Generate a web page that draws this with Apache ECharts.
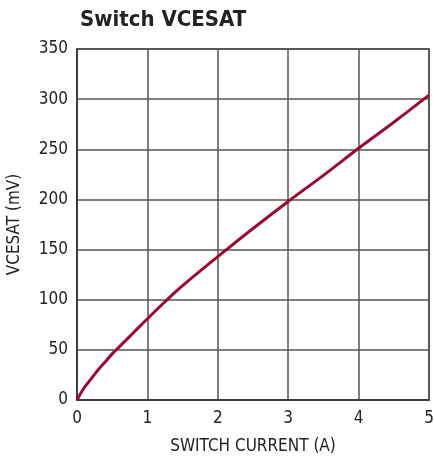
<!DOCTYPE html>
<html>
<head>
<meta charset="utf-8">
<script src="https://cdn.jsdelivr.net/npm/echarts@6/dist/echarts.min.js"></script>
<style>
  html, body { margin: 0; padding: 0; background: #fff; }
  #chart { width: 434px; height: 459px; }
</style>
</head>
<body>
<div id="chart"></div>
<script>
// switch current (A) vs VCESAT (mV)
var current = [0, 0.1, 0.2, 0.3, 0.4, 0.5, 0.6, 0.7, 0.8, 1.0, 1.25, 1.5, 2.0, 2.5, 3.0, 3.5, 4.0, 4.5, 5.0]
var vcesat = [0, 12, 21, 30, 38, 46, 53, 60, 67, 81, 98, 114, 143, 171, 198, 224, 251, 277, 304]

var font = "'Liberation Sans Narrow', 'DejaVu Sans Condensed', sans-serif"
var myChart = echarts.init(document.getElementById('chart'))

var option = {
  animation: false,
  title: {
    text: 'Switch VCESAT',
    left: 75,
    top: 4,
    textStyle: {
      fontFamily: font,
      fontWeight: 'bold',
      fontSize: 22,
      color: '#222'
    }
  },
  grid: {
    left: 77,
    right: 5,
    top: 49,
    bottom: 59,
    containLabel: false,
    outerBoundsMode: 'none',
    show: true,
    borderColor: '#333',
    borderWidth: 1.5
  },
  xAxis: {
    type: 'value',
    min: 0,
    max: 5,
    interval: 1,
    name: 'SWITCH CURRENT (A)',
    nameLocation: 'middle',
    nameGap: 38,
    nameTextStyle: { fontFamily: font, fontSize: 17, color: '#222' },
    axisLine: { lineStyle: { color: '#333', width: 1.5 } },
    axisTick: { show: false },
    axisLabel: { fontFamily: font, fontSize: 17, color: '#222', margin: 10 },
    splitLine: { lineStyle: { color: '#555', width: 1.5 } }
  },
  yAxis: {
    type: 'value',
    min: 0,
    max: 350,
    interval: 50,
    name: 'VCESAT (mV)',
    nameLocation: 'middle',
    nameGap: 54,
    nameTextStyle: { fontFamily: font, fontSize: 17, color: '#222' },
    axisLine: { show: true, lineStyle: { color: '#333', width: 1.5 } },
    axisTick: { show: false },
    axisLabel: { fontFamily: font, fontSize: 17, color: '#222', margin: 9 },
    splitLine: { lineStyle: { color: '#555', width: 1.5 } }
  },
  series: [
    {
      type: 'line',
      data: current.map(function (c, i) { return [c, vcesat[i]] }),
      smooth: 0.4,
      symbol: 'none',
      lineStyle: { color: '#9b0a30', width: 3 }
    }
  ]
}

option && myChart.setOption(option)
</script>
</body>
</html>
